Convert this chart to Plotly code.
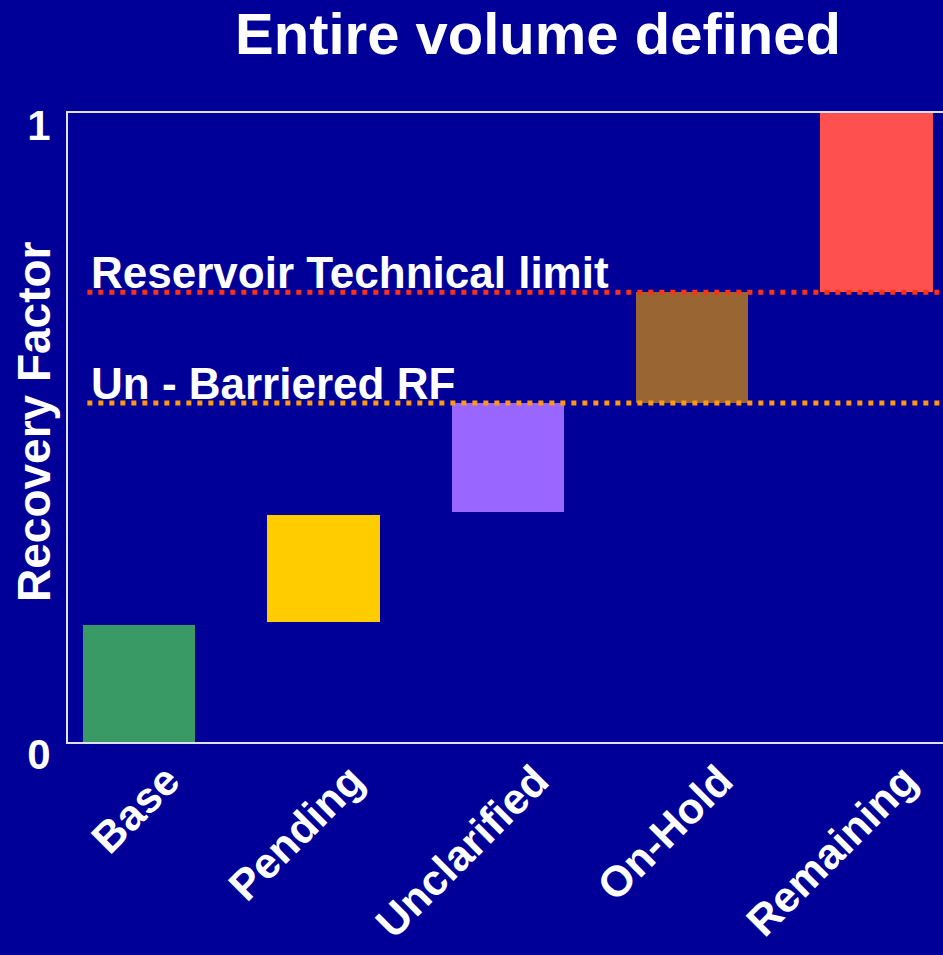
import plotly.graph_objects as go

categories = ["Base", "Pending", "Unclarified", "On-Hold", "Remaining"]
bar_bottom = [0.0, 0.191, 0.366, 0.539, 0.715]
bar_top = [0.186, 0.361, 0.539, 0.715, 1.0]
bar_colors = ["#3A9A66", "#FFCC00", "#9966FF", "#996633", "#FF5050"]

ref_names = ["Reservoir Technical limit", "Un - Barriered RF"]
ref_values = [0.715, 0.539]
ref_colors = ["#FF3311", "#FF9911"]

title_text = "Entire volume defined"
y_title = "Recovery Factor"
y_ticks = [0, 1]

BG = "#000099"
FONT = "Liberation Sans, Arial, sans-serif"

heights = [t - b for t, b in zip(bar_top, bar_bottom)]

fig = go.Figure()
fig.add_trace(go.Bar(
    x=categories, y=heights, base=bar_bottom,
    marker=dict(color=bar_colors, line=dict(width=0)),
    width=0.61, showlegend=False, hoverinfo="skip",
))

for name, val, col in zip(ref_names, ref_values, ref_colors):
    fig.add_shape(type="line", xref="x", yref="y", x0=-0.28, x1=4.4, y0=val, y1=val,
                  line=dict(color=col, width=5, dash="5px,6px"), layer="above")
    fig.add_annotation(x=-0.27, y=val, xref="x", yref="y", text="<b>%s</b>" % name,
                       showarrow=False, xanchor="left", yanchor="bottom", yshift=-7,
                       font=dict(family=FONT, size=44, color="white"))

# y-axis title
fig.add_annotation(x=(34 - 68) / 875, y=(742 - 422) / 629, xref="paper", yref="paper",
                   text="<b>%s</b>" % y_title, textangle=-90, showarrow=False,
                   xanchor="center", yanchor="middle",
                   font=dict(family=FONT, size=46, color="white"))

fig.update_layout(
    width=943, height=955,
    margin=dict(l=68, r=0, t=113, b=213),
    paper_bgcolor=BG, plot_bgcolor=BG,
    title=dict(text="<b>%s</b>" % title_text, x=538/943, xanchor="center",
               y=1 - 34/955, yanchor="middle", xref="container", yref="container",
               font=dict(family=FONT, size=58, color="white")),
    xaxis=dict(range=[-0.385, 4.36], showline=True, linecolor="#E0E0F0", linewidth=2,
               mirror=True, ticks="", showgrid=False, tickangle=-45, automargin=False,
               tickvals=categories, ticktext=["<b>%s</b>" % c for c in categories],
               tickfont=dict(family=FONT, size=43, color="white"),
               ticklabelshift=28, ticklabelstandoff=-6, zeroline=False),
    yaxis=dict(range=[0, 1], tickvals=y_ticks, ticktext=["<b>%s</b>" % v for v in y_ticks],
               showline=True, linecolor="#E0E0F0", linewidth=2, mirror=False,
               ticks="", showgrid=False, zeroline=False, automargin=False,
               tickfont=dict(family=FONT, size=42, color="white"),
               ticklabelstandoff=7, ticklabelshift=12),
    bargap=0,
)

fig.write_html("out.html", config={"displayModeBar": False},
               post_script="document.body.style.margin='0';document.body.style.overflow='hidden';")
